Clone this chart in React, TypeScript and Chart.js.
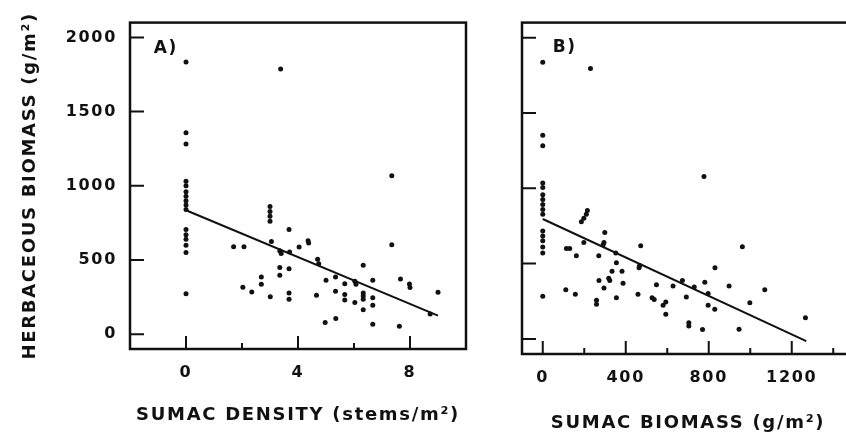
import React, { useEffect, useRef } from 'react';
import { Chart, registerables } from 'chart.js';

Chart.register(...registerables);

// ---------- Panel A: sumac density (stems/m²) vs herbaceous biomass (g/m²)
const densityX = [
  0, 0, 0, 0, 0, 0, 0, 0, 0, 0, 0, 0, 0, 0, 0, 0,
  1.7, 2.07, 2.03, 2.35, 2.69, 2.69, 3.01, 3.0, 3.0, 3.0, 3.0, 3.05, 3.35, 3.4, 3.35, 3.35,
  3.38, 3.68, 3.68, 3.68, 3.68, 3.7, 4.04, 4.36, 4.38, 4.7, 4.74, 4.66, 5.0, 4.97, 5.34, 5.34,
  5.35, 5.67, 5.67, 5.67, 6.03, 6.07, 6.03, 6.33, 6.33, 6.33, 6.33, 6.33, 6.67, 6.67, 6.67, 6.67,
  7.35, 7.35, 7.66, 7.98, 8.0, 7.62, 8.72, 9.0,
];
const densityY = [
  1834, 1357, 1281, 1030, 1000, 960, 930, 900, 870, 840, 706, 670, 640, 600, 550, 272,
  590, 590, 316, 285, 386, 336, 252, 860, 827, 794, 761, 625, 563, 543, 450, 397,
  1787, 441, 706, 278, 236, 553, 588, 629, 614, 505, 474, 262, 363, 79, 385, 289,
  105, 340, 268, 230, 357, 336, 214, 465, 278, 257, 235, 165, 363, 246, 195, 66,
  1068, 603, 372, 338, 315, 53, 136, 283,
];
const densityFitX = [0, 9];
const densityFitY = [835, 125];

// ---------- Panel B: sumac biomass (g/m²) vs herbaceous biomass (g/m²)
const sumacBiomassX = [
  0, 0, 0, 0, 0, 0, 0, 0, 0, 0, 0, 0, 0, 0, 0, 0,
  230, 777, 215, 210, 198, 186, 299, 295, 291, 198, 114, 130, 162, 270, 352, 355,
  472, 467, 464, 334, 382, 318, 323, 271, 387, 295, 355, 111, 157, 259, 259, 459,
  548, 527, 537, 593, 580, 593, 628, 673, 692, 704, 704, 770, 781, 797, 730, 797,
  829, 830, 898, 962, 998, 1070, 946, 1266,
];
const sumacBiomassY = [
  1836, 1353, 1283, 1035, 1005, 958, 925, 892, 859, 827, 717, 684, 651, 610, 570, 283,
  1796, 1079, 853, 827, 801, 778, 706, 640, 625, 640, 601, 601, 553, 553, 570, 505,
  618, 487, 472, 449, 449, 403, 388, 388, 370, 338, 274, 327, 296, 257, 230, 296,
  360, 274, 261, 245, 224, 164, 351, 388, 278, 107, 86, 62, 377, 301, 345, 224,
  197, 472, 351, 612, 241, 327, 64, 140,
];
const biomassFitX = [0, 1270];
const biomassFitY = [796, -15];

// ---------- Axes / ticks
const densityMajorTicks = [0, 4, 8];
const densityMinorTicks = [2, 6];
const biomassMajorTicks = [0, 400, 800, 1200];
const biomassMinorTicks = [200, 600, 1000, 1400];
const herbMajorTicks = [0, 500, 1000, 1500, 2000];

const FONT = '"DejaVu Sans", "Liberation Sans", sans-serif';
const INK = '#111111';

const spacingPlugin = {
  id: 'spacing',
  beforeDraw(chart: any) {
    (chart.ctx as any).letterSpacing = '1.7px';
  },
};

const framePlugin = {
  id: 'frame',
  afterDraw(chart: any, _args: any, opts: any) {
    const { ctx, chartArea } = chart;
    const { left, right, top, bottom } = chartArea;
    const xs = chart.scales.x;
    const ys = chart.scales.y;
    ctx.save();
    ctx.strokeStyle = INK;
    ctx.lineWidth = 2.5;
    ctx.strokeRect(left, top, right - left, bottom - top);
    ctx.lineWidth = 2;
    ctx.beginPath();
    opts.xMajor.forEach((v: number) => {
      const p = xs.getPixelForValue(v);
      ctx.moveTo(p, bottom);
      ctx.lineTo(p, bottom - 13);
    });
    opts.xMinor.forEach((v: number) => {
      const p = xs.getPixelForValue(v);
      ctx.moveTo(p, bottom);
      ctx.lineTo(p, bottom - 6);
    });
    opts.yMajor.forEach((v: number) => {
      const p = ys.getPixelForValue(v);
      ctx.moveTo(left, p);
      ctx.lineTo(left + 14, p);
    });
    ctx.stroke();
    ctx.fillStyle = INK;
    ctx.font = `bold 17px ${FONT}`;
    ctx.textAlign = 'center';
    ctx.textBaseline = 'middle';
    ctx.fillText(opts.label, xs.getPixelForValue(opts.labelAt[0]), ys.getPixelForValue(opts.labelAt[1]));
    ctx.restore();
  },
};

type Panel = {
  xs: number[]; ys: number[]; fitX: number[]; fitY: number[];
  xMin: number; xMax: number; xMajor: number[]; xMinor: number[];
  label: string; labelAt: number[];
  xTitle: string; yTitle: string | null;
  yAxisWidth: number; xAxisHeight: number; padTop: number; padRight: number;
  xTitlePadBottom: number; showYLabels: boolean;
};

function makeConfig(p: Panel): any {
  return {
    type: 'scatter',
    data: {
      datasets: [
        {
          data: p.xs.map((x, i) => ({ x, y: p.ys[i] })),
          pointRadius: 2.5,
          pointBackgroundColor: INK,
          pointBorderWidth: 0,
          showLine: false,
        },
        {
          data: p.fitX.map((x, i) => ({ x, y: p.fitY[i] })),
          showLine: true,
          borderColor: INK,
          borderWidth: 2,
          pointRadius: 0,
        },
      ],
    },
    options: {
      responsive: false,
      animation: false,
      devicePixelRatio: 1,
      layout: { padding: { top: p.padTop, right: p.padRight, left: 0, bottom: 0 } },
      plugins: {
        legend: { display: false },
        tooltip: { enabled: false },
        frame: { xMajor: p.xMajor, xMinor: p.xMinor, yMajor: herbMajorTicks, label: p.label, labelAt: p.labelAt },
      },
      scales: {
        x: {
          type: 'linear',
          min: p.xMin,
          max: p.xMax,
          afterFit: (s: any) => { s.height = p.xAxisHeight; },
          afterBuildTicks: (s: any) => { s.ticks = p.xMajor.map((v) => ({ value: v })); },
          grid: { display: false, drawTicks: false },
          border: { display: false },
          ticks: {
            autoSkip: false,
            maxRotation: 0,
            padding: 14.4,
            color: INK,
            font: { family: FONT, size: 16, weight: 'bold' },
            callback: (v: any) => String(v),
          },
          title: {
            display: true,
            text: p.xTitle,
            color: INK,
            font: { family: FONT, size: 18, weight: 'bold' },
            padding: { top: 0, bottom: p.xTitlePadBottom },
          },
        },
        y: {
          type: 'linear',
          min: -100,
          max: 2100,
          afterFit: (s: any) => { s.width = p.yAxisWidth; },
          afterBuildTicks: (s: any) => { s.ticks = herbMajorTicks.map((v) => ({ value: v })); },
          grid: { display: false, drawTicks: false },
          border: { display: false },
          ticks: {
            autoSkip: false,
            padding: 13,
            color: INK,
            font: { family: FONT, size: 16, weight: 'bold' },
            callback: (v: any) => (p.showYLabels ? String(v) : ''),
          },
          title: {
            display: !!p.yTitle,
            text: p.yTitle || '',
            color: INK,
            font: { family: FONT, size: 18, weight: 'bold' },
            padding: { top: 19.2, bottom: 0 },
          },
        },
      },
    },
    plugins: [spacingPlugin, framePlugin],
  };
}

const panelA: Panel = {
  xs: densityX, ys: densityY, fitX: densityFitX, fitY: densityFitY,
  xMin: -2, xMax: 10, xMajor: densityMajorTicks, xMinor: densityMinorTicks,
  label: 'A)', labelAt: [-0.72, 1928],
  xTitle: 'SUMAC DENSITY (stems/m²)', yTitle: 'HERBACEOUS BIOMASS (g/m²)',
  yAxisWidth: 130, xAxisHeight: 88, padTop: 15, padRight: 14, xTitlePadBottom: 11.2, showYLabels: true,
};

const panelB: Panel = {
  xs: sumacBiomassX, ys: sumacBiomassY, fitX: biomassFitX, fitY: biomassFitY,
  xMin: -100, xMax: 1500, xMajor: biomassMajorTicks, xMinor: biomassMinorTicks,
  label: 'B)', labelAt: [106, 1934],
  xTitle: 'SUMAC BIOMASS (g/m²)', yTitle: null,
  yAxisWidth: 42, xAxisHeight: 83, padTop: 20, padRight: 26, xTitlePadBottom: 3.2, showYLabels: false,
};

function ChartCanvas({ panel, width, height, left }: { panel: Panel; width: number; height: number; left: number }) {
  const ref = useRef<HTMLCanvasElement | null>(null);
  useEffect(() => {
    if (!ref.current) return;
    const chart = new Chart(ref.current, makeConfig(panel));
    return () => chart.destroy();
  }, [panel]);
  return (
    <canvas
      ref={ref}
      width={width}
      height={height}
      style={{ position: 'absolute', left, top: 0, width, height, display: 'block' }}
    />
  );
}

export default function App() {
  return (
    <div
      style={{
        position: 'fixed', left: 0, top: 0, width: 846, height: 437,
        overflow: 'hidden', background: '#ffffff',
      }}
    >
      <ChartCanvas panel={panelA} width={480} height={437} left={0} />
      <ChartCanvas panel={panelB} width={400} height={437} left={480} />
    </div>
  );
}
